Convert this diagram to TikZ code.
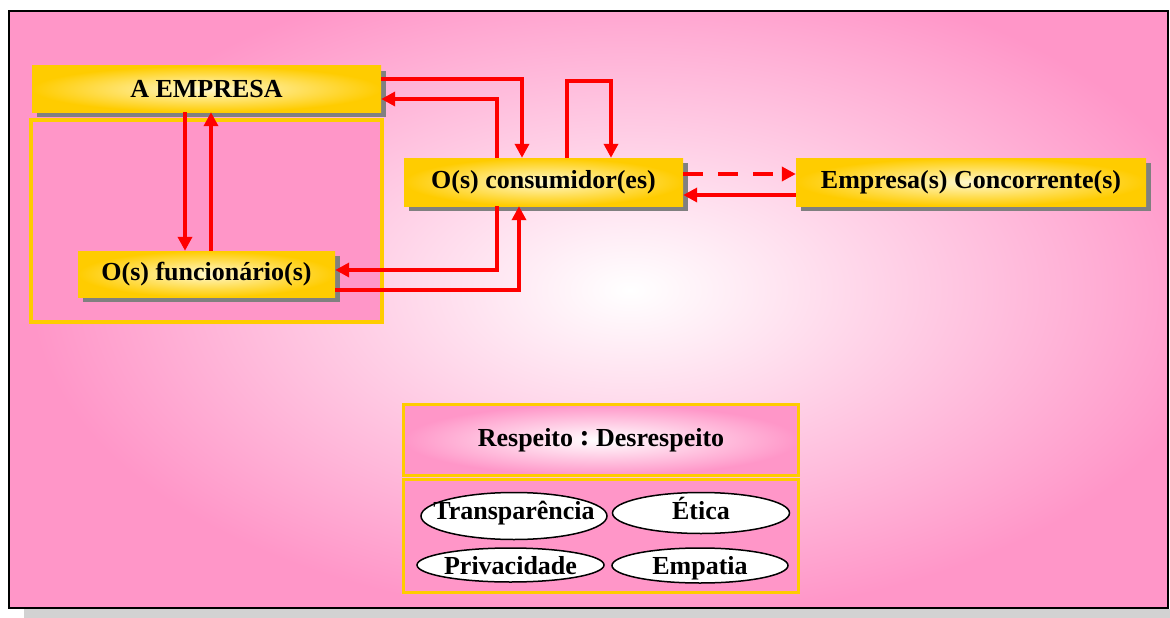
\documentclass[tikz,border=0pt]{standalone}
\usepackage{fontspec}
\setmainfont{Liberation Serif}
\usetikzlibrary{arrows.meta,shapes.geometric}
\definecolor{pinkbg}{RGB}{255,150,200}
\definecolor{goldc}{RGB}{255,204,0}
\definecolor{paleyel}{RGB}{255,248,205}
\definecolor{redc}{RGB}{255,0,0}
\definecolor{shadowc}{RGB}{128,128,128}
\tikzset{
  every node/.style={font=\bfseries\fontsize{26}{30}\selectfont, text=black},
  goldbox/.style={rectangle, inner sep=0pt, inner color=paleyel, outer color=goldc,
    preaction={fill=shadowc, transform canvas={xshift=5pt, yshift=-5pt}}},
  framebox/.style={rectangle, inner sep=0pt, draw=goldc, line width=3.5pt},
  quality/.style n args={2}{ellipse, inner sep=0pt, draw=black, line width=1.5pt, fill=white,
    label={[text height=17pt, text depth=5pt, inner sep=0pt, yshift=#2]center:#1}},
  arr/.style={draw=redc, line width=4pt, -{Triangle[length=14pt,width=14pt]}},
  dasharr/.style={arr, dash pattern=on 20pt off 15pt},
}
\begin{document}
\begin{tikzpicture}[x=1pt, y=-1pt]
\useasboundingbox (0,0) rectangle (1170,618);

% page frame with soft pink background
\fill[gray!35] (24,609) rectangle (1170,618);
\begin{scope}
  \clip (9,11) rectangle (1168,608);
  \fill[pinkbg] (9,11) rectangle (1168,608);
  \shade[inner color=white, outer color=pinkbg] (630,290) ellipse (600 and 330);
\end{scope}
\draw[black, line width=2pt] (9,11) rectangle (1168,608);

% employee group frame
\node[framebox, fill=pinkbg, minimum width=351pt, minimum height=202pt] (grp) at (206.5,221) {};

% main boxes
\node[goldbox, minimum width=349pt, minimum height=46pt] (emp) at (206.5,89) {A EMPRESA};
\node[goldbox, minimum width=257pt, minimum height=46pt] (func) at (206.5,274) {O(s) funcionário(s)};
\node[goldbox, minimum width=279pt, minimum height=48pt] (cons) at (543.5,182) {O(s) consumidor(es)};
\node[goldbox, minimum width=350pt, minimum height=48pt] (conc) at (971,182) {Empresa(s) Concorrente(s)};

% values panel
\node[framebox, inner color=white, outer color=pinkbg, minimum width=395pt, minimum height=71pt] (resp) at (601,440) {Respeito \raisebox{1pt}{\fontsize{30}{30}\selectfont:} Desrespeito};
\node[framebox, fill=pinkbg, minimum width=395pt, minimum height=113pt] (vals) at (601,536) {};
\node[quality={Transparência}{3pt}, minimum width=186pt, minimum height=47pt] (transp) at (514,516) {};
\node[quality={Ética}{0pt}, minimum width=177pt, minimum height=41pt] (etica) at (701,513) {};
\node[quality={Privacidade}{-3pt}, minimum width=187pt, minimum height=34pt] (priv) at (510.5,565) {};
\node[quality={Empatia}{-2.5pt}, minimum width=176pt, minimum height=35pt] (empat) at (700,565.5) {};

% consumer self loop corners
\coordinate (loopA) at (567,81);
\coordinate (loopB) at (611,81);

% connectors
\draw[arr] ([yshift=10pt]emp.east) -| ([xshift=-21.5pt]cons.north);
\draw[arr] ([xshift=-46.5pt]cons.north) |- ([yshift=-10pt]emp.east);
\draw[arr] (cons.north -| loopA) -- (loopA) -- (loopB) -- (cons.north -| loopB);
\draw[dasharr] ([yshift=8pt]cons.east) -- ([yshift=8pt]conc.west);
\draw[arr] ([yshift=-13pt]conc.west) -- ([yshift=-13pt]cons.east);
\draw[arr] ([xshift=-46.5pt]cons.south) |- ([yshift=4pt]func.east);
\draw[arr] ([yshift=-16pt]func.east) -| ([xshift=-24.5pt]cons.south);
\draw[arr] ([xshift=-21.5pt]emp.south) -- ([xshift=-21.5pt]func.north);
\draw[arr] ([xshift=4.5pt]func.north) -- ([xshift=4.5pt]emp.south);
\end{tikzpicture}
\end{document}
